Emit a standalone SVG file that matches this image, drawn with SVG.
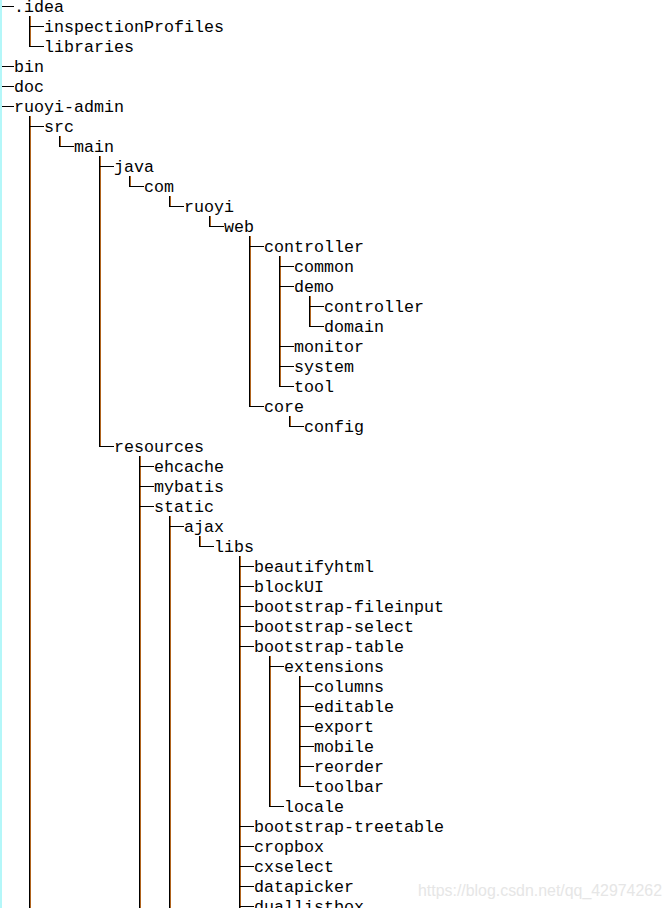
<svg xmlns="http://www.w3.org/2000/svg" xmlns:xlink="http://www.w3.org/1999/xlink" width="671" height="908" viewBox="0 0 671 908">
<style>
.t{font-family:"Liberation Mono","Courier New",monospace;font-size:16.67px;fill:#000}
.wm{font-family:"Liberation Sans",Arial,sans-serif;font-size:17px;fill:#e6e6e6}
.h{stroke:#000;stroke-width:1;fill:none;shape-rendering:crispEdges}
.vb{stroke:#000;stroke-width:1;fill:none;shape-rendering:crispEdges}
.vs{stroke:#b0641e;stroke-width:1;fill:none;shape-rendering:crispEdges}
</style>
<defs>
<path id="vlines" d="M29.5 16V47M29.5 116V908M59.5 136V147M99.5 156V447M129.5 176V187M169.5 196V207M209.5 216V227M249.5 236V407M279.5 256V387M309.5 296V327M289.5 416V427M139.5 456V908M169.5 516V908M199.5 536V547M239.5 556V908M269.5 656V807M299.5 676V787"/>
</defs>
<rect x="0" y="0" width="671" height="908" fill="#fff"/>
<rect x="0" y="0" width="2" height="908" fill="#b4f7f9"/>
<g id="connectors">
<use xlink:href="#vlines" href="#vlines" class="vs" x="1"/>
<use xlink:href="#vlines" href="#vlines" class="vb"/>
<path class="h" d="M2 6.5H14M29 26.5H44M29 46.5H44M2 66.5H14M2 86.5H14M2 106.5H14M29 126.5H44M59 146.5H74M99 166.5H114M129 186.5H144M169 206.5H184M209 226.5H224M249 246.5H264M279 266.5H294M279 286.5H294M309 306.5H324M309 326.5H324M279 346.5H294M279 366.5H294M279 386.5H294M249 406.5H264M289 426.5H304M99 446.5H114M139 466.5H154M139 486.5H154M139 506.5H154M169 526.5H184M199 546.5H214M239 566.5H254M239 586.5H254M239 606.5H254M239 626.5H254M239 646.5H254M269 666.5H284M299 686.5H314M299 706.5H314M299 726.5H314M299 746.5H314M299 766.5H314M299 786.5H314M269 806.5H284M239 826.5H254M239 846.5H254M239 866.5H254M239 886.5H254M239 906.5H254"/>
</g>
<g id="n-idea"><text class="t" x="14" y="12">.idea</text></g>
<g id="n-inspectionProfiles"><text class="t" x="44" y="32">inspectionProfiles</text></g>
<g id="n-libraries"><text class="t" x="44" y="52">libraries</text></g>
<g id="n-bin"><text class="t" x="14" y="72">bin</text></g>
<g id="n-doc"><text class="t" x="14" y="92">doc</text></g>
<g id="n-ruoyi-admin"><text class="t" x="14" y="112">ruoyi-admin</text></g>
<g id="n-src"><text class="t" x="44" y="132">src</text></g>
<g id="n-main"><text class="t" x="74" y="152">main</text></g>
<g id="n-java"><text class="t" x="114" y="172">java</text></g>
<g id="n-com"><text class="t" x="144" y="192">com</text></g>
<g id="n-ruoyi"><text class="t" x="184" y="212">ruoyi</text></g>
<g id="n-web"><text class="t" x="224" y="232">web</text></g>
<g id="n-web-controller"><text class="t" x="264" y="252">controller</text></g>
<g id="n-common"><text class="t" x="294" y="272">common</text></g>
<g id="n-demo"><text class="t" x="294" y="292">demo</text></g>
<g id="n-demo-controller"><text class="t" x="324" y="312">controller</text></g>
<g id="n-domain"><text class="t" x="324" y="332">domain</text></g>
<g id="n-monitor"><text class="t" x="294" y="352">monitor</text></g>
<g id="n-system"><text class="t" x="294" y="372">system</text></g>
<g id="n-tool"><text class="t" x="294" y="392">tool</text></g>
<g id="n-core"><text class="t" x="264" y="412">core</text></g>
<g id="n-config"><text class="t" x="304" y="432">config</text></g>
<g id="n-resources"><text class="t" x="114" y="452">resources</text></g>
<g id="n-ehcache"><text class="t" x="154" y="472">ehcache</text></g>
<g id="n-mybatis"><text class="t" x="154" y="492">mybatis</text></g>
<g id="n-static"><text class="t" x="154" y="512">static</text></g>
<g id="n-ajax"><text class="t" x="184" y="532">ajax</text></g>
<g id="n-libs"><text class="t" x="214" y="552">libs</text></g>
<g id="n-beautifyhtml"><text class="t" x="254" y="572">beautifyhtml</text></g>
<g id="n-blockUI"><text class="t" x="254" y="592">blockUI</text></g>
<g id="n-bootstrap-fileinput"><text class="t" x="254" y="612">bootstrap-fileinput</text></g>
<g id="n-bootstrap-select"><text class="t" x="254" y="632">bootstrap-select</text></g>
<g id="n-bootstrap-table"><text class="t" x="254" y="652">bootstrap-table</text></g>
<g id="n-extensions"><text class="t" x="284" y="672">extensions</text></g>
<g id="n-columns"><text class="t" x="314" y="692">columns</text></g>
<g id="n-editable"><text class="t" x="314" y="712">editable</text></g>
<g id="n-export"><text class="t" x="314" y="732">export</text></g>
<g id="n-mobile"><text class="t" x="314" y="752">mobile</text></g>
<g id="n-reorder"><text class="t" x="314" y="772">reorder</text></g>
<g id="n-toolbar"><text class="t" x="314" y="792">toolbar</text></g>
<g id="n-locale"><text class="t" x="284" y="812">locale</text></g>
<g id="n-bootstrap-treetable"><text class="t" x="254" y="832">bootstrap-treetable</text></g>
<g id="n-cropbox"><text class="t" x="254" y="852">cropbox</text></g>
<g id="n-cxselect"><text class="t" x="254" y="872">cxselect</text></g>
<g id="n-datapicker"><text class="t" x="254" y="892">datapicker</text></g>
<g id="n-duallistbox"><text class="t" x="254" y="912">duallistbox</text></g>
<text class="wm" x="418" y="896" textLength="244" lengthAdjust="spacingAndGlyphs">https://blog.csdn.net/qq_42974262</text>
</svg>
